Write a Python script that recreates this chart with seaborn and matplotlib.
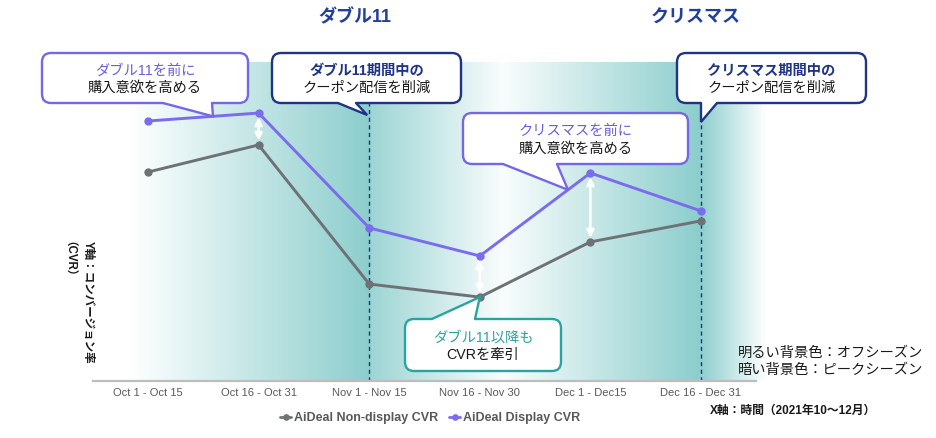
import numpy as np
import pandas as pd
import matplotlib
matplotlib.use("Agg")
import matplotlib.pyplot as plt
from matplotlib.patches import FancyBboxPatch, Polygon
from matplotlib.lines import Line2D
import seaborn as sns

# ---------------- data ----------------
periods = ["Oct 1 - Oct 15", "Oct 16 - Oct 31", "Nov 1 - Nov 15",
           "Nov 16 - Nov 30", "Dec 1 - Dec15", "Dec 16 - Dec 31"]
display_cvr = [8.15, 8.40, 4.80, 3.92, 6.52, 5.33]
nondisplay_cvr = [6.55, 7.40, 3.04, 2.63, 4.36, 5.02]
series_names = ["AiDeal Non-display CVR", "AiDeal Display CVR"]
event_titles = ["ダブル11", "クリスマス"]
event_idx = [2, 5]

df = pd.DataFrame({
    "period": list(range(len(periods))) * 2,
    "cvr": nondisplay_cvr + display_cvr,
    "series": [series_names[0]] * len(periods) + [series_names[1]] * len(periods),
})

# ---------------- style ----------------
sns.set_theme(style="white")
plt.rcParams["font.family"] = ["Liberation Sans", "Noto Sans CJK JP", "DejaVu Sans"]

W, H = 936, 438
fig = plt.figure(figsize=(W / 100, H / 100), dpi=100)
fig.patch.set_facecolor("white")

ax_l, ax_r, ax_b, ax_t = 92.7, 756.3, 57, 376
ax = fig.add_axes([ax_l / W, ax_b / H, (ax_r - ax_l) / W, (ax_t - ax_b) / H])
ax.set_facecolor("none")

PURPLE = "#7B6CEE"
GRAY = "#6E7276"
NAVY = "#1F3584"
TEAL = "#2AA4A1"

sns.lineplot(data=df, x="period", y="cvr", hue="series", style="series",
             hue_order=series_names, style_order=series_names,
             palette={series_names[0]: GRAY, series_names[1]: PURPLE},
             markers={series_names[0]: "o", series_names[1]: "o"},
             dashes=False, linewidth=2.1, markersize=6, markeredgewidth=0,
             ax=ax, zorder=3, legend=True)

ax.set_xlim(-0.5, 5.5)
ax.set_ylim(0, 10)

# ---------------- background gradient ----------------
def px2x(px):
    return -0.5 + (px - ax_l) / (ax_r - ax_l) * 6

pxs = np.linspace(125, 772, 700)
kp_px = [125, 130, 370, 370.5, 503, 700, 767, 772]
kp_v = [0, 0, 1.0, 0.85, 0.05, 1.0, 0, 0]
inten = np.interp(pxs, kp_px, kp_v)
peak = np.array(matplotlib.colors.to_rgb("#8CCECD"))
rgb = 1 - inten[:, None] * (1 - peak[None, :])
img = np.ones((2, len(pxs), 3))
img[:, :, :] = rgb[None, :, :]
ax.imshow(img, extent=(px2x(125), px2x(772), 0, 10), aspect="auto",
          interpolation="bilinear", zorder=0, clip_on=False)
ax.set_xlim(-0.5, 5.5)
ax.set_ylim(0, 10)

# dashed event lines
for i in event_idx:
    ax.axvline(i, ymin=0, ymax=0.87, color=NAVY, lw=1, ls=(0, (3, 2.5)), zorder=1)

# white double arrows between the series
for i in [1, 3, 4]:
    ax.annotate("", xy=(i, display_cvr[i]), xytext=(i, nondisplay_cvr[i]),
                arrowprops=dict(arrowstyle="<|-|>", color="white", lw=1.8,
                                shrinkA=3, shrinkB=3, mutation_scale=11),
                zorder=2)

# axes cosmetics
ax.set_xticks(range(len(periods)))
ax.set_xticklabels(periods)
ax.set_yticks([])
ax.set_xlabel("")
ax.set_ylabel("")
for s in ["top", "right", "left"]:
    ax.spines[s].set_visible(False)
ax.spines["bottom"].set_color("#BDBDBD")
ax.spines["bottom"].set_linewidth(1.6)
ax.spines["bottom"].set_zorder(4)
ax.tick_params(axis="x", length=0, pad=5, labelsize=8, labelcolor="#595959")

# legend
handles, labels = ax.get_legend_handles_labels()
leg = ax.legend(handles, labels, loc="center", bbox_to_anchor=(430 / W, 1 - 418 / H),
                bbox_transform=fig.transFigure, ncol=2, frameon=False,
                handlelength=0.9, handletextpad=0.2, columnspacing=0.9,
                prop=dict(weight="bold", size=9), markerscale=0.8)
for t in leg.get_texts():
    t.set_color("#595959")
for h in leg.legend_handles:
    h.set_linewidth(2.0)

# ---------------- overlay (callouts, texts) ----------------
ov = fig.add_axes([0, 0, 1, 1], zorder=5)
ov.set_xlim(0, W)
ov.set_ylim(H, 0)
ov.axis("off")
ov.patch.set_alpha(0)

fig.canvas.draw()

def to_ov(x, y):
    px, py = ax.transData.transform((x, y))
    return px, H - py

def callout(x0, y0, x1, y1, color, base, tip, line1, c1, line2, bold1, top=False):
    ov.add_patch(FancyBboxPatch((x0, y0), x1 - x0, y1 - y0,
                                boxstyle="round,pad=0,rounding_size=9",
                                fc="white", ec=color, lw=1.7, zorder=6))
    yb = y0 if top else y1
    inner = yb + 3 if top else yb - 3
    ov.add_patch(Polygon([(base[0], inner), (base[0], yb), tip, (base[1], yb), (base[1], inner)],
                         closed=True, fc="white", ec="none", zorder=7))
    ov.add_line(Line2D([base[0], tip[0], base[1]], [yb, tip[1], yb],
                       color=color, lw=1.7, zorder=8, solid_joinstyle="miter"))
    cx = (x0 + x1) / 2
    h = y1 - y0
    ov.text(cx, y0 + h * 0.36, line1, color=c1, ha="center", va="center",
            size=10.3, weight="bold" if bold1 else "normal", zorder=9)
    ov.text(cx, y0 + h * 0.70, line2, color="#1A1A1A", ha="center", va="center",
            size=10.3, zorder=9)

idx = np.arange(len(periods))

tip1 = to_ov(px2x(213), np.interp(px2x(213), idx, display_cvr))
callout(42, 53, 248, 103, "#7468E4", (163, 212), tip1,
        "ダブル11を前に", "#6A5ED8", "購入意欲を高める", False)

tip2 = (to_ov(event_idx[0], 0)[0] - 2, 115)
callout(272, 53, 461, 103, NAVY, (338, 356), tip2,
        "ダブル11期間中の", NAVY, "クーポン配信を削減", True)

tip3 = to_ov(px2x(568), np.interp(px2x(568), idx, display_cvr))
callout(463, 113, 688, 164, "#7468E4", (503, 557), tip3,
        "クリスマスを前に", "#6A5ED8", "購入意欲を高める", False)

tip4 = (to_ov(event_idx[1], 0)[0], 122)
callout(677, 53, 866, 103, NAVY, (to_ov(event_idx[1], 0)[0], 717), tip4,
        "クリスマス期間中の", NAVY, "クーポン配信を削減", True)

tip5 = to_ov(3, nondisplay_cvr[3])
callout(405, 319, 561, 371, TEAL, (432, 475), tip5,
        "ダブル11以降も", TEAL, "CVRを牽引", False, top=True)

# event titles
fig.text(355 / W, 1 - 18 / H, event_titles[0], ha="center", va="center",
         size=13, weight="bold", color="#22409A")
fig.text(696 / W, 1 - 18 / H, event_titles[1], ha="center", va="center",
         size=13, weight="bold", color="#22409A")

# y-axis label (rotated, two columns)
fig.text(88 / W, 1 - 241 / H, "Y軸：コンバージョン率", rotation=-90,
         ha="center", va="top", size=8.3, weight="bold", color="#1A1A1A")
fig.text(63 / W, 1 - 241 / H, "（CVR）", rotation=-90,
         ha="center", va="top", size=8.3, weight="bold", color="#1A1A1A")

# season legend text
fig.text(738 / W, 1 - 361.5 / H, "明るい背景色：オフシーズン\n暗い背景色：ピークシーズン",
         ha="left", va="center", size=10.3, color="#1A1A1A", linespacing=1.25)

# x-axis label
fig.text(710 / W, 1 - 411 / H, "X軸：時間（2021年10～12月）", ha="left", va="center",
         size=8.5, weight="bold", color="#1A1A1A")

fig.savefig("out.png", dpi=100, facecolor="white")
